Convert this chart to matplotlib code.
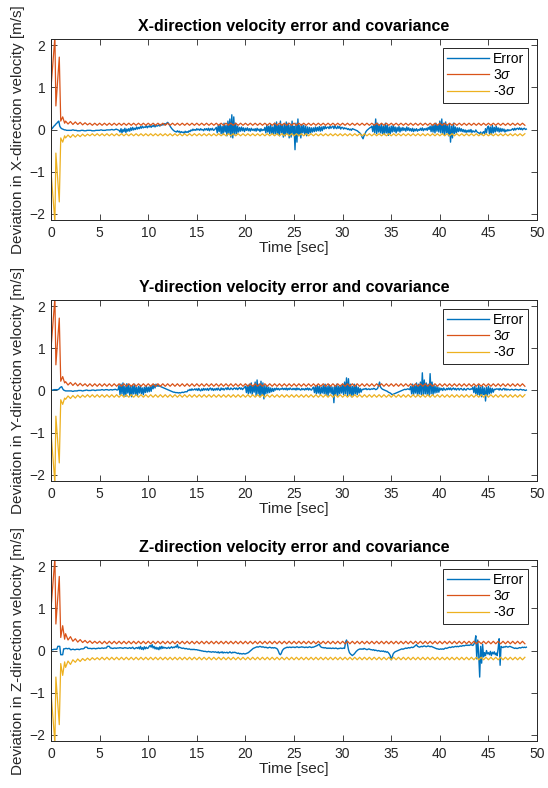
import numpy as np
import matplotlib
matplotlib.use("Agg")
import matplotlib.pyplot as plt

plt.rcParams['font.family'] = ['Liberation Sans', 'DejaVu Sans']
plt.rcParams['mathtext.fontset'] = 'custom'
plt.rcParams['mathtext.rm'] = 'Liberation Sans'
plt.rcParams['mathtext.it'] = 'Liberation Sans:italic'

# ---------------- data (velocity errors in cm/s, sampled every 0.1 s) -------------
err_x_cms = [
    0, 2, 5, 8, 10, 13, 15, 18, 20, 8,
    4, 2, 1, 0, -1, -1, -2, -2, -2, -2,
    -2, -2, -1, -1, -2, -2, -2, -3, -3, -3,
    -3, -2, -2, -2, -3, -3, -3, -2, -2, -2,
    -2, -2, -3, -3, -3, -3, -2, -2, -2, -2,
    -2, -1, -1, -2, -2, -2, -2, -1, -1, -1,
    -1, -1, 0, 0, -1, -1, 0, 1, 0, -1,
    -2, -6, 2, -8, 0, -5, 3, -7, 1, -4,
    2, -4, 4, -2, 5, -1, 3, 0, 6, 1,
    5, 2, 7, 3, 8, 4, 6, 5, 9, 4,
    8, 6, 10, 5, 9, 7, 11, 6, 10, 8,
    9, 11, 8, 12, 10, 13, 11, 14, 12, 15,
    17, 14, 10, 6, 3, 0, -2, -4, -5, -6,
    -3, -6, -4, -8, -5, -7, -6, -9, -4, -7,
    -5, -7, -3, -5, -1, -3, 1, -2, 0, -2,
    2, -1, 1, -2, 2, -1, 0, -3, 2, -1,
    2, -2, 3, -3, 2, -1, 3, -2, -1, 2,
    5, -8, 10, -5, 12, -10, 8, -12, 15, -6,
    10, -15, 20, -10, 25, -18, 35, -20, 30, -12,
    15, -10, 8, -6, 5, -4, 6, -3, 4, -5,
    3, -2, 4, -3, 2, -4, 3, -2, 1, -3,
    2, -4, 3, -2, 1, -5, 2, -3, 0, -2,
    5, -8, 10, -6, 8, -10, 12, -9, 6, -12,
    15, -10, 18, -12, 10, -15, 20, -8, 12, -18,
    12, -15, 18, -10, 15, -20, 10, -18, 20, -12,
    8, -48, 15, -30, 25, -15, 10, -20, 12, -8,
    10, -12, 8, -15, 6, -10, 5, -8, 4, -6,
    4, -5, 6, -4, 5, -3, 7, -4, 6, -3,
    7, 1, 8, 2, 5, 6, 2, 8, 3, 6,
    8, 2, 9, 4, 2, 8, 3, 7, 1, 5,
    5, 1, 4, 2, 3, 0, 2, -1, 1, -2,
    2, 1, 0, -1, -2, -3, -5, -7, -9, -12,
    -18, -22, -15, -10, -5, -2, 0, 2, 4, 5,
    8, -5, 12, -8, 25, -10, 15, -6, 10, -8,
    12, -10, 8, -12, 15, -8, 10, -14, 6, -10,
    8, -6, 10, -5, 6, -8, 5, -4, 7, -6,
    4, -3, 5, -2, 3, -4, 6, -2, 4, -3,
    2, -4, 3, -5, 1, -3, 2, -4, 0, -2,
    3, -2, 4, -3, 2, -1, 3, -2, 5, 0,
    8, -5, 10, -6, 12, -8, 15, -4, 10, -6,
    20, -8, 25, -10, 15, -12, 18, -8, 10, -15,
    12, -30, 8, -20, 15, -10, 6, -8, 4, -5,
    4, -4, 2, -5, 0, -6, -1, -7, -2, -6,
    -1, -6, 0, -7, -3, -5, -6, -1, -5, -7,
    -8, -10, -6, -12, -8, -5, -10, 2, -8, 5,
    8, -10, 6, -12, 10, -8, 5, -6, 8, -4,
    4, -6, 3, -5, 2, -4, 1, -6, -1, -4,
    0, -3, -1, -2, 0, 2, -2, 3, -1, 2,
    3, 0, 4, 0, 3, -1, 2, 3, 0, 1,
]

err_y_cms = [
    1, 1, 1, 2, 2, 2, 2, 2, 3, 6,
    8, 9, 4, 1, 0, -1, -1, -1, -1, -1,
    -1, -1, -2, -2, -1, -1, -1, -1, 0, 0,
    0, 0, -1, -1, 0, 0, 1, 1, 0, 0,
    0, 0, 1, 1, 1, 0, 0, 1, 1, 1,
    1, 1, 2, 2, 1, 1, 2, 2, 2, 1,
    1, 2, 2, 1, 2, 2, 3, 2, 1, 2,
    12, -10, 15, -8, 18, -12, 10, -14, 16, -6,
    14, -12, 10, -15, 12, -8, 15, -10, 8, -12,
    10, -6, 12, -8, 6, -10, 8, -5, 10, -4,
    8, -3, 10, -2, 12, 4, 14, 6, 15, 10,
    12, 10, 11, 9, 8, 7, 6, 5, 4, 3,
    2, 1, 0, -1, -2, -3, -4, -4, -5, -5,
    -5, -6, -5, -6, -5, -4, -5, -4, -3, -3,
    -3, 1, 0, 3, 0, 4, 1, 2, 4, 1,
    4, 0, 5, 1, -1, 4, 0, 5, 1, 4,
    1, 5, 0, 4, 6, 1, 5, 0, 4, 1,
    5, 1, 6, 2, 0, 6, 2, 5, 1, 4,
    6, 2, 7, 3, 2, 6, 4, 2, 5, 6,
    3, 6, 2, 5, 7, 3, 6, 2, 5, 7,
    10, -5, 12, -8, 15, -6, 18, -10, 12, -4,
    20, -12, 25, -8, 15, -15, 22, -10, 18, -20,
    12, -8, 10, -6, 8, -5, 6, -3, 5, -2,
    5, 1, 6, 2, 5, 1, 4, 3, 6, 2,
    5, 2, 6, 1, 5, 2, 6, 3, 2, 5,
    2, 5, 1, 6, 2, 5, 2, 1, 5, 2,
    4, 1, 5, 2, 6, 1, 5, 2, 1, 5,
    8, -5, 10, -8, 12, -6, 10, -10, 8, -6,
    12, -8, 15, -10, 10, -12, 14, -6, 10, -8,
    8, -29, 12, -10, 15, -12, 10, -8, 12, -6,
    15, -10, 20, -8, 30, -12, 28, -10, 15, -15,
    10, -12, 15, -8, 12, -10, 8, -6, 5, -4,
    3, 2, 4, 3, 5, 2, 3, 4, 2, 3,
    4, 3, 5, 4, 2, 3, 5, 12, 20, 8,
    5, 3, 2, 1, 0, -1, -2, -4, -5, -6,
    -8, -10, -9, -8, -7, -6, -5, -4, -3, -2,
    -1, 0, 1, 2, 3, 2, 3, 4, 3, 2,
    10, -8, 15, -10, 12, -6, 18, -12, 15, -8,
    20, -10, 42, -12, 25, -8, 18, -10, 15, -12,
    40, -8, 20, -10, 12, -6, 10, -5, 8, -4,
    6, 1, 5, 0, 6, 2, 1, 5, 2, 6,
    2, 6, 1, 4, 6, 2, 5, 1, 4, 5,
    1, 4, 5, 2, 1, 5, 2, 1, 4, 5,
    3, 2, 4, 3, 8, -5, 10, -8, 6, -10,
    12, -12, 8, -15, 10, -10, 6, -25, 8, -12,
    10, -8, 6, -6, 5, -4, 3, 2, 4, 3,
    4, 1, 5, 2, 1, 4, 5, 1, 4, 1,
    3, 2, 1, 2, 3, 2, 1, 2, 3, 2,
    2, 1, 2, 3, 2, 1, 2, 1, 0, 1,
]

err_z_cms = [
    2, 2, 2, 3, 3, 3, 3, 10, 10, 10,
    -10, -10, -10, 4, 4, 5, 5, 4, 5, 5,
    2, 2, 3, 3, 2, 2, 3, 3, 3, 2,
    3, 4, 4, 4, 5, 8, 8, 8, 5, 5,
    5, 5, 4, 5, 5, 5, 4, 5, 5, 6,
    5, 5, 6, 6, 5, 6, 6, 6, 10, 10,
    10, 6, 6, 5, 5, 6, 6, 5, 6, 6,
    6, 7, 6, 6, 5, 6, 7, 6, 6, 5,
    6, 7, 5, 6, 8, 5, 4, 6, 7, 5,
    8, 4, 10, 3, 7, 2, 9, 4, 8, 5,
    6, 10, 12, 8, 14, 6, 10, 4, 8, 3,
    7, 2, 9, 4, 10, 5, 8, 6, 7, 5,
    6, 8, 5, 7, 9, 6, 8, 7, 10, 8,
    14, 6, 8, 7, 6, 5, 6, 5, 4, 5,
    4, 3, 4, 3, 2, 3, 2, 3, 2, 2,
    2, 1, 1, 0, 0, -1, -1, -2, -2, -2,
    -3, -3, -2, -3, -3, -4, -3, -3, -4, -3,
    -4, -5, -3, -6, -4, -5, -3, -6, -4, -5,
    -5, -4, -6, -5, -3, -5, -6, -4, -5, -4,
    -5, -6, -7, -6, -8, -7, -8, -8, -7, -8,
    -8, -7, -6, -5, -3, -1, 1, 3, 5, 6,
    7, 8, 9, 8, 9, 10, 9, 8, 9, 8,
    7, 8, 7, 6, 7, 8, 7, 6, 7, 6,
    7, 6, 5, 3, -2, -8, -10, -6, 0, 3,
    5, 6, 7, 8, 7, 8, 8, 7, 8, 8,
    8, 7, 8, 9, 8, 7, 8, 8, 9, 8,
    8, 7, 8, 8, 7, 8, 9, 8, 7, 8,
    8, 9, 10, 11, 12, 14, 15, 10, 8, 7,
    7, 6, 7, 6, 5, 6, 5, 6, 5, 5,
    6, 5, 5, 6, 5, 4, 5, 5, 6, 5,
    5, 6, 5, 20, 25, 15, 2, -5, -8, -10,
    -12, -10, -8, -5, -2, 0, 2, 3, 4, 3,
    4, 3, 5, 4, 3, 2, 3, 4, 3, 2,
    2, 1, 2, 0, 1, 0, -1, 0, -1, -2,
    -1, -2, -1, -3, -2, -4, -3, -5, -8, -12,
    -22, -15, -8, -5, -3, -2, -1, 0, 1, 2,
    3, 4, 3, 4, 5, 6, 5, 6, 7, 6,
    7, 8, 7, 8, 10, 12, 14, 10, 9, 8,
    9, 10, 9, 10, 11, 10, 9, 10, 11, 10,
    9, 10, 9, 8, 7, 6, 5, 4, 4, 3,
    3, 4, 3, 4, 3, 5, 6, 5, 6, 7,
    8, 7, 8, 9, 8, 9, 10, 9, 10, 9,
    10, 11, 10, 11, 12, 11, 12, 13, 12, 13,
    12, 13, 14, 13, 12, 15, 20, 35, -20, 25,
    -10, -63, 10, -30, 15, -15, -5, -12, 0, -8,
    -5, -10, -2, -12, -4, -8, -3, -10, -6, -12,
    5, 28, -35, 10, 8, 7, 9, 8, 10, 9,
    8, 9, 10, 9, 8, 7, 6, 5, 6, 5,
    5, 6, 7, 6, 7, 8, 7, 8, 7, 8,
]

# 3-sigma bound: start-up transient (times in s, values in cm/s)
sig_tr_t = [0.0, 0.4, 0.5, 0.85, 1.0, 1.2, 1.4]
sig_tr_x = [100, 220, 56, 172, 20, 30, 15]
sig_tr_y = [100, 220, 61, 172, 22, 33, 18]
sig_tr_z = [100, 220, 63, 176, 31, 59, 27]

# 3-sigma bound after start-up, every 0.25 s from 1.5 s (cm/s)
sig_ss_x = [
    20, 13, 19, 12, 18, 12, 17, 11, 16, 11,
    15, 10, 15, 10, 15, 10, 15, 10, 15, 10,
    15, 10, 15, 10, 15, 10, 15, 10, 15, 10,
    15, 10, 15, 10, 15, 10, 15, 10, 15, 10,
    15, 10, 15, 10, 15, 10, 15, 10, 15, 10,
    15, 10, 15, 10, 15, 10, 15, 10, 15, 10,
    15, 10, 15, 10, 15, 10, 15, 10, 15, 10,
    15, 10, 15, 10, 15, 10, 15, 10, 15, 10,
    15, 10, 15, 10, 15, 10, 15, 10, 15, 10,
    15, 10, 15, 10, 15, 10, 15, 10, 15, 10,
    15, 10, 15, 10, 15, 10, 15, 10, 15, 10,
    15, 10, 15, 10, 15, 10, 15, 10, 15, 10,
    15, 10, 15, 10, 15, 10, 15, 10, 15, 10,
    15, 10, 15, 10, 15, 10, 15, 10, 15, 10,
    15, 10, 15, 10, 15, 10, 15, 10, 15, 10,
    15, 10, 15, 10, 15, 10, 15, 10, 15, 10,
    15, 10, 15, 10, 15, 10, 15, 10, 15, 10,
    15, 10, 15, 10, 15, 10, 15, 10, 15, 10,
    15, 10, 15, 10, 15, 10, 15, 10, 15, 10,
]
sig_ss_y = [
    21, 13, 19, 12, 18, 11, 17, 11, 16, 10,
    16, 10, 16, 10, 16, 10, 16, 10, 16, 10,
    16, 10, 16, 10, 16, 10, 16, 10, 16, 10,
    16, 10, 16, 10, 16, 10, 16, 10, 16, 10,
    16, 10, 16, 10, 16, 10, 16, 10, 16, 10,
    16, 10, 16, 10, 16, 10, 16, 10, 16, 10,
    16, 10, 16, 10, 16, 10, 16, 10, 16, 10,
    16, 10, 16, 10, 16, 10, 16, 10, 16, 10,
    16, 10, 16, 10, 16, 10, 16, 10, 16, 10,
    16, 10, 16, 10, 16, 10, 16, 10, 16, 10,
    16, 10, 16, 10, 16, 10, 16, 10, 16, 10,
    16, 10, 16, 10, 16, 10, 16, 10, 16, 10,
    16, 10, 16, 10, 16, 10, 16, 10, 16, 10,
    16, 10, 16, 10, 16, 10, 16, 10, 16, 10,
    16, 10, 16, 10, 16, 10, 16, 10, 16, 10,
    16, 10, 16, 10, 16, 10, 16, 10, 16, 10,
    16, 10, 16, 10, 16, 10, 16, 10, 16, 10,
    16, 10, 16, 10, 16, 10, 16, 10, 16, 10,
    16, 10, 16, 10, 16, 10, 16, 10, 16, 10,
]
sig_ss_z = [
    40, 25, 33, 22, 28, 20, 26, 19, 24, 18,
    23, 17, 22, 17, 22, 16, 22, 16, 22, 16,
    22, 16, 22, 16, 22, 16, 22, 16, 22, 16,
    22, 16, 22, 16, 22, 16, 22, 16, 22, 16,
    22, 16, 22, 16, 22, 16, 22, 16, 22, 16,
    22, 16, 22, 16, 22, 16, 22, 16, 22, 16,
    22, 16, 22, 16, 22, 16, 22, 16, 22, 16,
    22, 16, 22, 16, 22, 16, 22, 16, 22, 16,
    22, 16, 22, 16, 22, 16, 22, 16, 22, 16,
    22, 16, 22, 16, 22, 16, 22, 16, 22, 16,
    22, 16, 22, 16, 22, 16, 22, 16, 22, 16,
    22, 16, 22, 16, 22, 16, 22, 16, 22, 16,
    22, 16, 22, 16, 22, 16, 22, 16, 22, 16,
    22, 16, 22, 16, 22, 16, 22, 16, 22, 16,
    22, 16, 22, 16, 22, 16, 22, 16, 22, 16,
    22, 16, 22, 16, 22, 16, 22, 16, 22, 16,
    22, 16, 22, 16, 22, 16, 22, 16, 22, 16,
    22, 16, 22, 16, 22, 16, 22, 16, 22, 16,
    22, 16, 22, 16, 22, 16, 22, 16, 22, 16,
]

axis_names = ['X', 'Y', 'Z']
titles = [f'{a}-direction velocity error and covariance' for a in axis_names]
ylabels = [f'Deviation in {a}-direction velocity [m/s]' for a in axis_names]
xlabel = 'Time [sec]'
xticks = [0, 5, 10, 15, 20, 25, 30, 35, 40, 45, 50]
yticks = [-2, -1, 0, 1, 2]
legend_labels = ['Error', r'3$\sigma$', r'-3$\sigma$']

c_err = '#0072BD'
c_pos = '#D95319'
c_neg = '#EDB120'
c_ax = '#262626'

fig = plt.figure(figsize=(5.48, 7.88), dpi=100)
left, width, height = 0.0931, 0.8869, 0.2297
bottoms = [0.7208, 0.3896, 0.0596]

errs = [err_x_cms, err_y_cms, err_z_cms]
trs = [sig_tr_x, sig_tr_y, sig_tr_z]
sss = [sig_ss_x, sig_ss_y, sig_ss_z]

for i in range(3):
    ax = fig.add_axes([left, bottoms[i], width, height])
    e = np.array(errs[i]) / 100.0
    te = 0.1 * np.arange(len(e))
    sig_t = np.concatenate([sig_tr_t, 1.5 + 0.25 * np.arange(len(sss[i]))])
    sig = np.concatenate([trs[i], sss[i]]) / 100.0
    ax.plot(te, e, color=c_err, lw=1.0, label=legend_labels[0])
    ax.plot(sig_t, sig, color=c_pos, lw=0.9, label=legend_labels[1])
    ax.plot(sig_t, -sig, color=c_neg, lw=0.9, label=legend_labels[2])
    ax.set_xlim(0, 50)
    ax.set_ylim(-2.15, 2.15)
    ax.set_xticks(xticks)
    ax.set_yticks(yticks)
    ax.tick_params(direction='in', top=True, right=True, length=4, width=0.6,
                   labelsize=10, colors=c_ax, pad=4)
    for s in ax.spines.values():
        s.set_color(c_ax)
        s.set_linewidth(0.7)
    ax.set_title(titles[i], fontsize=11.5, fontweight='bold', pad=6)
    ax.set_xlabel(xlabel, fontsize=11, color=c_ax, labelpad=1)
    ax.set_ylabel(ylabels[i], fontsize=11, color=c_ax, labelpad=3)
    leg = ax.legend(loc='upper right', bbox_to_anchor=(0.9815, 0.950),
                    borderaxespad=0, fontsize=10, handlelength=3.0,
                    handletextpad=0.25, labelspacing=0.15, borderpad=0.3,
                    fancybox=False, framealpha=1, edgecolor=c_ax)
    leg.get_frame().set_linewidth(0.7)

fig.savefig('out.png', dpi=100)
